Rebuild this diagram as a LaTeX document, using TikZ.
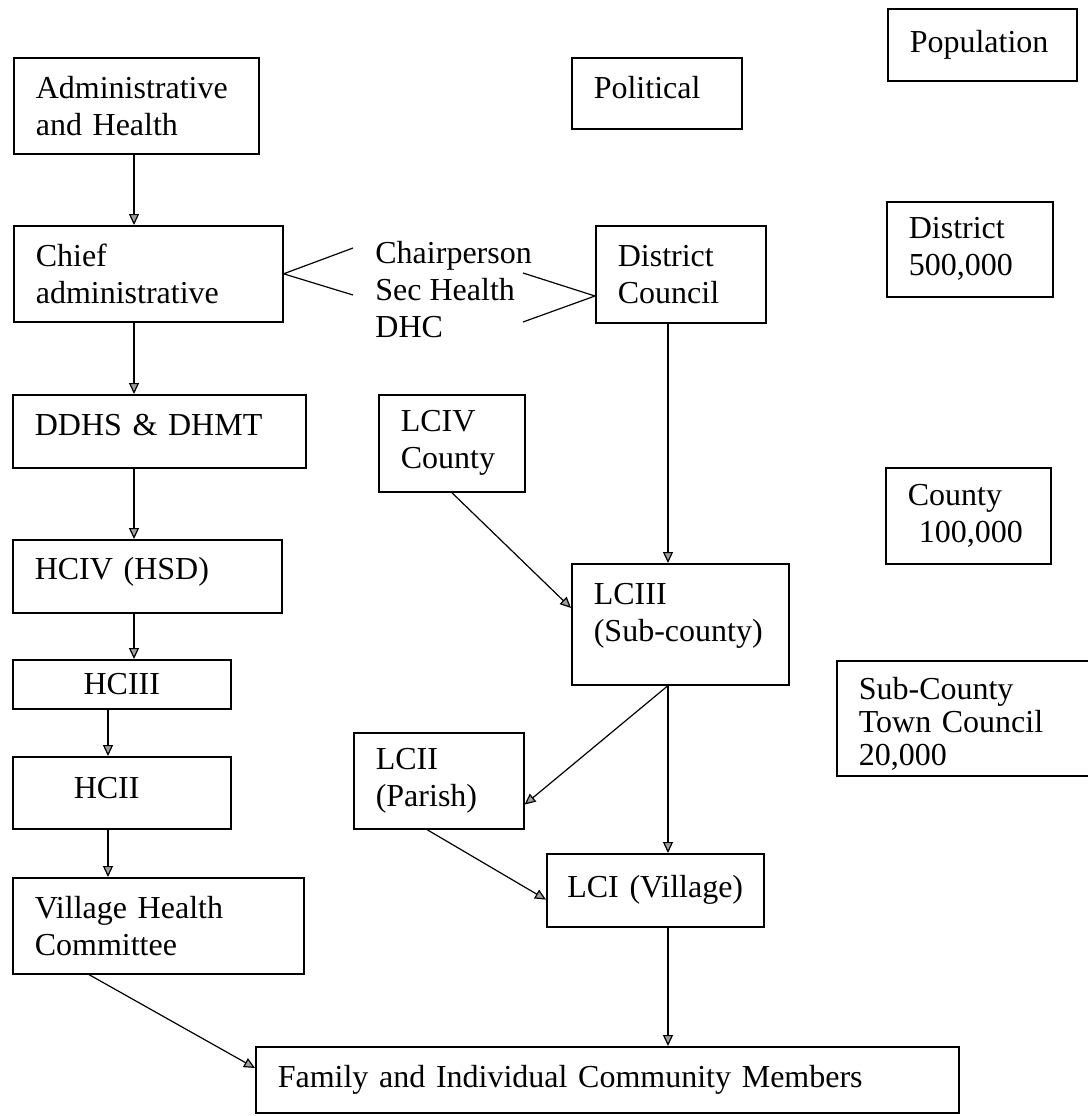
\documentclass[tikz,border=0pt]{standalone}
\usepackage{fontspec}
\setmainfont{Liberation Serif}
\usetikzlibrary{arrows.meta,calc}
\tikzset{
  box/.style={draw, line width=0.8pt, anchor=north west, align=left,
    inner xsep=11pt, inner ysep=0pt, font=\fontsize{16pt}{18.5pt}\selectfont},
  arr/.style={draw, line width=0.6pt, -{Triangle[length=5.5pt,width=5pt,fill=gray!75]}},
  link/.style={draw, line width=0.6pt}
}
\begin{document}
\begin{tikzpicture}[x=0.5pt, y=-0.5pt]
  \useasboundingbox (0,0) rectangle (1088,1116);
  \node[box, text width=72.5pt, minimum height=36pt] (pop) at (887,8) {Population};
  \node[box, text width=100.5pt, minimum height=48pt] (admin) at (13,57) {Administrative\\and Health};
  \node[box, text width=63pt, minimum height=35.5pt, text depth=6pt] (political) at (571,57) {Political};
  \node[box, text width=112.5pt, minimum height=48pt] (chief) at (13,225) {Chief\\administrative};
  \node[font=\fontsize{16pt}{18.5pt}\selectfont, align=left, inner sep=0pt, anchor=west] (chair) at (375,290) {Chairperson\\Sec Health\\DHC};
  \node[box, text width=63pt, minimum height=48.5pt] (dcouncil) at (595,225) {District\\Council};
  \node[box, text width=61pt, minimum height=47.5pt] (district) at (886,201) {District\\500,000};
  \node[box, text width=124.5pt, minimum height=36.5pt, text depth=6pt] (ddhs) at (12,394) {DDHS \& DHMT};
  \node[box, text width=51pt, minimum height=48.5pt] (lciv) at (378,394) {LCIV\\County};
  \node[box, text width=60.5pt, minimum height=48pt] (county) at (885,467) {County\\\hspace*{5.5pt}100,000};
  \node[box, text width=112.5pt, minimum height=36.5pt, text depth=7.5pt] (hciv) at (12,539) {HCIV (HSD)};
  \node[box, text width=86.5pt, minimum height=60.5pt, text depth=30pt] (lciii) at (571,563) {LCIII\\(Sub-county)};
  \node[box, align=center, text width=87pt, minimum height=24.5pt] (hciii) at (12,659) {HCIII};
  \node[box, inner xsep=30.5pt, text width=48pt, minimum height=36pt, text depth=5pt] (hcii) at (12,756) {HCII};
  \node[box, text width=104pt, minimum height=57.5pt, text depth=29.5pt,
    font=\fontsize{16pt}{16.5pt}\selectfont] (sub) at (836,660) {Sub-County\\Town Council\\20,000};
  \node[box, text width=63pt, minimum height=48pt] (lcii) at (353,732) {LCII\\(Parish)};
  \node[box, inner xsep=10.25pt, text width=88pt, minimum height=36.5pt] (lci) at (546,853) {LCI (Village)};
  \node[box, text width=123.5pt, minimum height=48pt] (vhc) at (12,877) {Village Health\\Committee};
  \node[box, text width=329.5pt, minimum height=33pt] (family) at (255,1046) {Family and Individual Community Members};

  \coordinate (lx) at (134,0);
  \coordinate (hx) at (108,0);
  \coordinate (rx) at (668,0);
  \coordinate (c1) at (353,248);
  \coordinate (c2) at (353,295);
  \coordinate (c3) at (523,273);
  \coordinate (c4) at (523,322);

  \draw[link] (c1) -- (chief.east) -- (c2);
  \draw[link] (c3) -- ($(dcouncil.north west)+(0,71)$) -- (c4);

  \draw[arr] (admin.south -| lx) -- (chief.north -| lx);
  \draw[arr] (chief.south -| lx) -- (ddhs.north -| lx);
  \draw[arr] (ddhs.south -| lx) -- (hciv.north -| lx);
  \draw[arr] (hciv.south -| lx) -- (hciii.north -| lx);
  \draw[arr] (hciii.south -| hx) -- (hcii.north -| hx);
  \draw[arr] (hcii.south -| hx) -- (vhc.north -| hx);
  \draw[arr] ($(vhc.south west)+(77,0)$) -- ($(family.north west)+(0,22)$);
  \draw[arr] (dcouncil.south -| rx) -- (lciii.north -| rx);
  \draw[arr] (lciv.south) -- ($(lciii.north west)+(0,45)$);
  \draw[arr] (lciii.south -| rx) -- (lci.north -| rx);
  \draw[arr] (lciii.south -| rx) -- ($(lcii.south east)+(0,-25)$);
  \draw[arr] ($(lcii.south west)+(74,0)$) -- ($(lci.south west)+(0,-28)$);
  \draw[arr] (lci.south -| rx) -- (family.north -| rx);
\end{tikzpicture}
\end{document}
